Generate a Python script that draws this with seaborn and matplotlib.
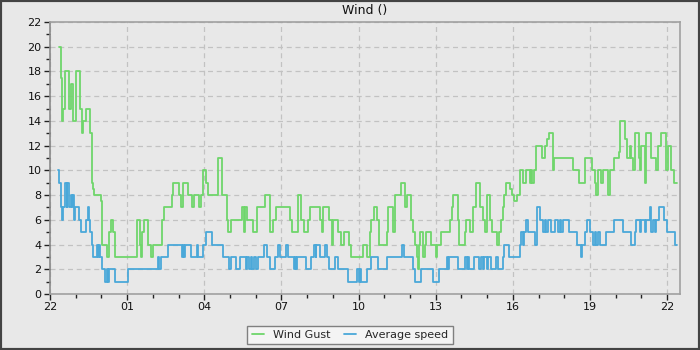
import numpy as np
import pandas as pd
import matplotlib
matplotlib.use("Agg")
import matplotlib.pyplot as plt
import matplotlib.dates as mdates
import seaborn as sns

# Step-change points: hours after 22:00 on the first day, and the value from that time on
gust_hours = [0.36, 0.44, 0.47, 0.49, 0.57, 0.73, 0.75, 0.80, 0.91, 1.01, 1.17, 1.24, 1.30, 1.39,
              1.56, 1.62, 1.66, 1.70, 1.98, 2.04, 2.20, 2.28, 2.37, 2.46, 2.51, 3.37, 3.50, 3.53,
              3.57, 3.67, 3.82, 3.93, 3.99, 4.34, 4.42, 4.73, 4.79, 5.03, 5.09, 5.16, 5.35, 5.51,
              5.61, 5.81, 5.86, 5.94, 6.06, 6.16, 6.54, 6.70, 6.87, 6.93, 7.02, 7.45, 7.55, 7.58,
              7.65, 7.88, 8.04, 8.36, 8.56, 8.66, 8.79, 9.35, 9.43, 9.65, 9.78, 9.87, 10.04, 10.10,
              10.49, 10.56, 10.62, 10.85, 10.95, 11.01, 11.20, 11.33, 11.43, 11.63, 11.72, 12.18,
              12.33, 12.44, 12.50, 12.59, 12.72, 12.80, 13.09, 13.15, 13.35, 13.41, 13.65, 13.81,
              13.87, 14.04, 14.13, 14.21, 14.26, 14.30, 14.34, 14.39, 14.52, 14.57, 14.62, 14.82,
              15.01, 15.06, 15.21, 15.56, 15.64, 15.69, 15.86, 15.92, 16.12, 16.18, 16.35, 16.44,
              16.57, 16.74, 16.83, 16.93, 16.98, 17.13, 17.19, 17.37, 17.48, 17.54, 17.61, 17.67,
              17.74, 17.89, 17.97, 18.06, 18.15, 18.26, 18.39, 18.50, 18.65, 18.72, 18.76, 18.81,
              18.89, 19.15, 19.24, 19.33, 19.39, 19.56, 19.60, 20.34, 20.57, 20.79, 21.09, 21.18,
              21.25, 21.31, 21.44, 21.51, 21.70, 21.77, 21.92, 22.13, 22.18, 22.35, 22.44, 22.54,
              22.61, 22.67, 22.74, 22.89, 22.93, 23.00, 23.13, 23.19, 23.36, 23.56, 23.65, 23.78,
              23.97, 24.03, 24.16, 24.26]
gust_values = [20, 17.5, 14, 15, 18, 17, 15, 17, 14, 18, 15, 13, 14, 15,
               13, 9, 8.5, 8, 7.5, 4, 3, 5, 6, 5, 3, 6, 4, 3,
               5, 6, 4, 3, 4, 6, 7, 8, 9, 8, 7, 9, 8, 7,
               8, 7, 8, 10, 9, 8, 11, 8, 6, 5, 6, 7, 5, 7,
               6, 5, 7, 8, 5, 6, 7, 6, 5, 8, 6, 5, 6, 7,
               6, 5, 7, 6, 4, 6, 5, 4, 5, 4, 3, 4,
               3, 5, 6, 7, 6, 4, 5, 7, 5, 8, 9, 7,
               8, 6, 5, 4, 3, 2, 4, 5, 3, 4, 5, 4,
               3, 4, 5, 6, 7, 8, 6, 4, 5, 6, 5, 7,
               9, 7, 6, 5, 8, 6, 5, 4, 5, 6, 7, 8,
               9, 8.5, 8, 7.5, 8, 10, 9, 10, 9, 10, 9, 10,
               12, 11, 12, 12.5, 13, 10, 11, 10, 9, 11, 10, 9,
               8, 10, 9, 10, 8, 10, 11, 11.5, 14, 12.5, 11, 12,
               11, 10, 13, 11, 10, 12, 9, 13, 11, 10, 12, 13,
               10, 12, 10, 9]

avg_hours = [0.32, 0.36, 0.41, 0.45, 0.49, 0.60, 0.65, 0.67, 0.73, 0.75, 0.80, 0.86, 0.91, 0.95,
             0.97, 1.14, 1.19, 1.40, 1.46, 1.53, 1.56, 1.62, 1.69, 1.84, 1.88, 1.92, 1.94, 2.01,
             2.14, 2.20, 2.24, 2.29, 2.53, 3.05, 4.21, 4.25, 4.30, 4.60, 5.12, 5.16, 5.21, 5.26,
             5.48, 5.70, 5.77, 5.94, 6.06, 6.29, 6.71, 6.97, 7.02, 7.23, 7.39, 7.62, 7.67, 7.73,
             7.80, 7.85, 7.93, 8.01, 8.10, 8.32, 8.45, 8.56, 8.75, 8.88, 8.94, 9.17, 9.27, 9.48,
             9.52, 9.56, 9.61, 9.95, 10.14, 10.27, 10.34, 10.36, 10.49, 10.71, 10.78, 10.85,
             11.08, 11.20, 11.59, 11.94, 12.02, 12.07, 12.11, 12.31, 12.50, 12.76, 13.11, 13.69,
             13.78, 14.11, 14.21, 14.43, 14.88, 15.12, 15.43, 15.47, 15.51, 15.86, 16.15, 16.20,
             16.25, 16.30, 16.50, 16.70, 16.76, 16.83, 16.89, 16.98, 17.04, 17.15, 17.35, 17.41,
             17.61, 17.67, 17.84, 18.26, 18.31, 18.40, 18.44, 18.52, 18.59, 18.85, 18.94, 19.04,
             19.17, 19.24, 19.30, 19.37, 19.50, 19.63, 19.75, 19.82, 19.88, 19.95, 20.18, 20.49,
             20.64, 20.69, 20.79, 20.90, 20.99, 21.12, 21.18, 21.25, 21.31, 21.38, 21.61, 21.92,
             22.28, 22.61, 22.74, 22.80, 22.93, 23.00, 23.13, 23.19, 23.32, 23.39, 23.45, 23.52,
             23.58, 23.68, 23.87, 24.00, 24.29]
avg_values = [10, 9, 7, 6, 7, 9, 7, 9, 8, 7, 8, 7, 8, 6,
              7, 6, 5, 6, 7, 6, 5, 4, 3, 4, 3, 4, 3, 2,
              1, 2, 1, 2, 1, 2, 3, 2, 3, 4, 3, 4, 3, 4,
              3, 4, 3, 4, 5, 4, 3, 2, 3, 2, 3, 2, 3, 2,
              3, 2, 3, 2, 3, 4, 3, 2, 3, 4, 3, 4, 3, 2,
              3, 2, 3, 2, 3, 4, 3, 4, 3, 4, 3, 2,
              3, 2, 1, 2, 1, 2, 1, 2, 3, 2, 3, 4,
              3, 2, 1, 2, 1, 2, 3, 2, 3, 2, 3, 2,
              3, 2, 3, 2, 3, 2, 3, 2, 3, 2, 3, 2,
              3, 4, 3, 4, 5, 4, 5, 6, 5, 4, 7, 6,
              5, 6, 5, 6, 5, 6, 5, 6, 5, 6, 5, 4,
              3, 4, 5, 6, 5, 4, 5, 4, 5, 4, 5, 6,
              5, 4, 5, 6, 5, 6, 5, 6, 7, 5, 6, 5,
              6, 7, 6, 5, 4]

end_hour = 24.37
series_names = ["Wind Gust", "Average speed"]
series_colors = ["#6fd66b", "#4aa8d9"]
y_ticks = list(range(0, 23, 2))

start = pd.Timestamp("2024-03-01 22:00")


def to_frame(hours, values, name):
    h = list(hours) + [end_hour]
    v = list(values) + [values[-1]]
    return pd.DataFrame({
        "time": start + pd.to_timedelta(h, unit="h"),
        "value": v,
        "series": name,
    })


df = pd.concat([to_frame(gust_hours, gust_values, series_names[0]),
                to_frame(avg_hours, avg_values, series_names[1])], ignore_index=True)

sns.set_style("ticks")
plt.rcParams["font.family"] = ["DejaVu Sans"]

bg = "#e8e8e8"
fig = plt.figure(figsize=(7, 3.5), dpi=100, facecolor=bg)
ax = fig.add_axes([50 / 700, 56 / 350, 630 / 700, 272 / 350])
ax.set_facecolor(bg)

sns.lineplot(data=df, x="time", y="value", hue="series", hue_order=series_names,
             palette=series_colors, drawstyle="steps-post", estimator=None,
             linewidth=1.3, ax=ax, legend=False)

ax.set_xlim(start, start + pd.Timedelta(hours=24.5))
ax.set_ylim(0, 22)
ax.set_yticks(y_ticks)
ax.yaxis.set_minor_locator(matplotlib.ticker.MultipleLocator(1))
ax.xaxis.set_major_locator(mdates.HourLocator(byhour=range(1, 24, 3)))
ax.xaxis.set_minor_locator(mdates.HourLocator())
ax.xaxis.set_major_formatter(mdates.DateFormatter("%H"))

ax.grid(True, which="major", linestyle=(0, (4, 3)), color="#c2c2c2", linewidth=0.9)
ax.tick_params(which="major", length=4, width=1, color="#222222", labelsize=8, pad=2,
               labelcolor="#111111")
ax.tick_params(which="minor", length=3, width=1, color="#222222")
for side in ["left", "bottom", "right", "top"]:
    ax.spines[side].set_color("#a0a0a0")
    ax.spines[side].set_linewidth(1.2)
ax.spines["left"].set_color("#8a8a8a")

ax.set_xlabel("")
ax.set_ylabel("")
ax.set_title("Wind ()", fontsize=9, color="#111111", pad=6)

handles = [matplotlib.lines.Line2D([], [], color=c, lw=1.3) for c in series_colors]
fig.legend(handles, series_names, loc="lower center", bbox_to_anchor=(0.5, 0.0),
           ncol=2, fontsize=8, frameon=True, fancybox=False, handlelength=1.1,
           columnspacing=1.2, handletextpad=0.8, borderpad=0.4,
           facecolor="#f4f4f4", edgecolor="#808080", framealpha=1)

# dark outer frame around the whole figure
fig.patches.append(matplotlib.patches.Rectangle((0, 0), 1, 1, transform=fig.transFigure,
                                                fill=False, edgecolor="#444444", linewidth=3))

fig.savefig("out.png", dpi=100, facecolor=bg)
